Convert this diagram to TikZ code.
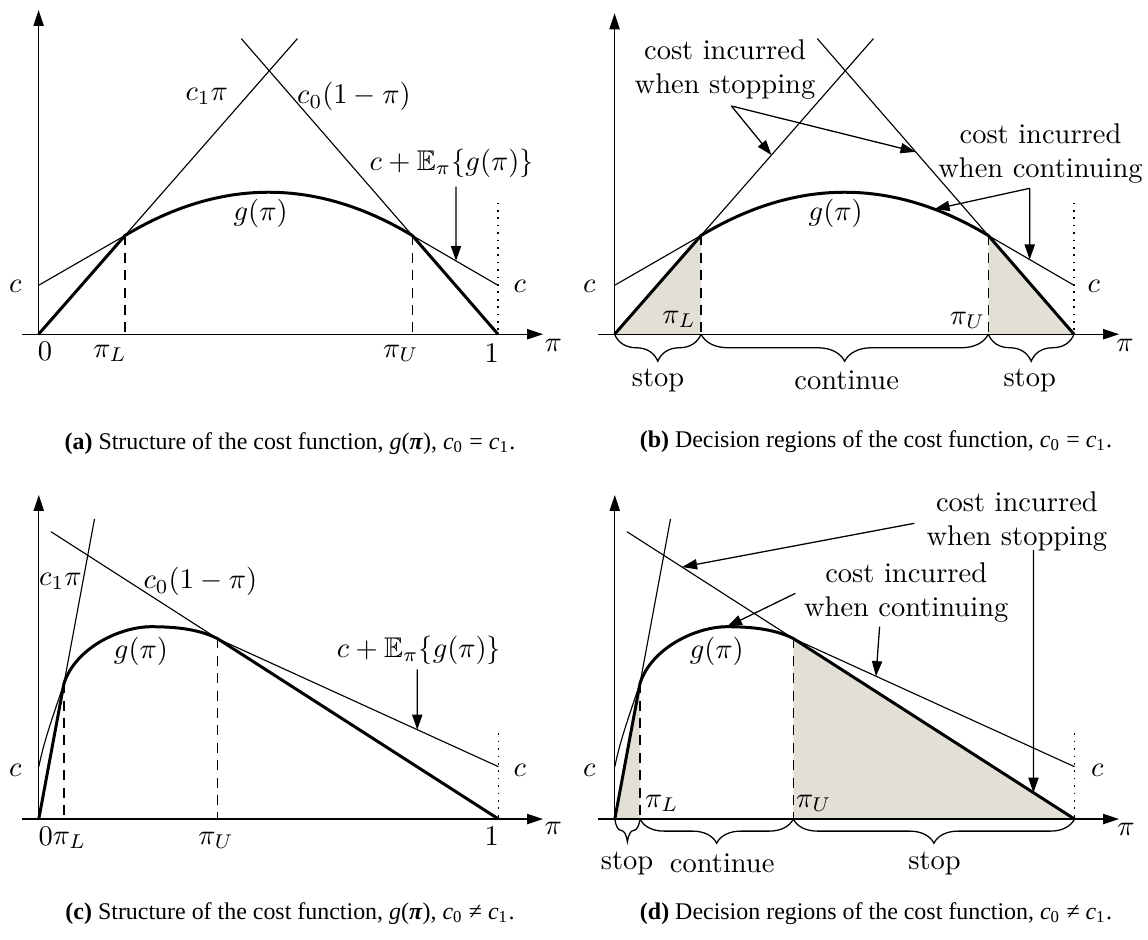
\documentclass[tikz,border=0pt]{standalone}
\usepackage{amssymb}
\usepackage{fontspec}
\newfontfamily\capfont{Liberation Serif}
\usetikzlibrary{arrows.meta,decorations.pathreplacing,calc}
\definecolor{regionfill}{RGB}{226,224,214}
\begin{document}
\begin{tikzpicture}[x=0.351pt,y=-0.351pt,
  thinline/.style={line width=0.4pt},
  thickline/.style={line width=1.05pt,line join=round},
  axis/.style={line width=0.45pt,-{Triangle[length=5.6pt,width=3.6pt]}},
  pointer/.style={line width=0.45pt,-{Triangle[length=5.3pt,width=3.6pt]}},
  guide/.style={line width=0.4pt,dash pattern=on 3.5pt off 2.6pt},
  dotline/.style={line width=0.5pt,dash pattern=on 0.6pt off 2pt},
  region/.style={fill=regionfill},
  bracebelow/.style={decorate,decoration={brace,mirror,amplitude=#1},line width=0.45pt},
  lbl/.style={inner sep=0pt},
  twoline/.style={inner sep=0pt,align=center,font=\fontsize{10}{12}\selectfont},
  captext/.style={inner sep=0pt,font=\capfont\fontsize{8.4}{10}\selectfont}]
\useasboundingbox (0,0) rectangle (1148,939);

% ================= panel (a) =================
\coordinate (aO) at (38.6,334.2);
\coordinate (aX) at (498,334.2);
\coordinate (aPL) at (125,235.5);
\coordinate (aPU) at (412.3,235.5);
\coordinate (aL0) at (125,334.2);
\coordinate (aU0) at (412.3,334.2);
\coordinate (aC0) at (38.6,285.3);
\coordinate (aC1) at (498,285.3);
\coordinate (aT1) at (297.4,38.6);
\coordinate (aT0) at (241.3,38.6);
\coordinate (aYt) at (38.6,10);
\coordinate (aXl) at (22,334.2);
\coordinate (aXr) at (543,334.2);
\coordinate (aD) at (498,202.5);
\draw[axis] (aO) -- (aYt);
\draw[axis] (aXl) -- (aXr);
\draw[thinline] (aPL) -- (aT1);
\draw[thinline] (aT0) -- (aPU);
\draw[thinline] (aC0) -- (aPL);
\draw[thinline] (aPU) -- (aC1);
\draw[guide] (aPL) -- (aL0);
\draw[guide] (aPU) -- (aU0);
\draw[dotline] (aD) -- (aX);
\draw[thickline] (aO) -- (aPL) .. controls (220.7,177.8) and (316.5,177.8) .. (aPU) -- (aX);
\node[lbl] (acl) at (15.4,286.7) {$c$};
\node[lbl] (acr) at (519.8,286.7) {$c$};
\node[lbl] (a0) at (45,351.7) {$0$};
\node[lbl] (apiL) at (110,353) {$\pi_L$};
\node[lbl] (apiU) at (400.8,353) {$\pi_U$};
\node[lbl] (a1) at (491.7,353.3) {$1$};
\node[lbl] (api) at (553.3,345) {$\pi$};
\node[lbl] (ac1pi) at (206.8,96.7) {$c_1\pi$};
\node[lbl] (ac0) at (354,96.7) {$c_0(1-\pi)$};
\node[lbl] (aE) at (451.7,163.3) {$c+\mathbb{E}_\pi\{g(\pi)\}$};
\node[lbl] (ag) at (260.6,213.3) {$g(\pi)$};
\coordinate (aA) at (456,186.7);
\path (aPU) -- coordinate[pos=0.51] (aAe) (aC1);
\draw[pointer] (aA) -- (aAe);
\node[captext] (acap) at (290,443.3) {\textbf{(a)} Structure of the cost function, \textit{g}(\textbf{\textit{π}}), \textit{c}\textsubscript{0} = \textit{c}\textsubscript{1}.};

% ================= panel (b) =================
\begin{scope}[shift={(576,0)}]
\coordinate (bO) at (38.6,334.2);
\coordinate (bX) at (498,334.2);
\coordinate (bPL) at (125,235.5);
\coordinate (bPU) at (412.3,235.5);
\coordinate (bL0) at (125,334.2);
\coordinate (bU0) at (412.3,334.2);
\coordinate (bC0) at (38.6,285.3);
\coordinate (bC1) at (498,285.3);
\coordinate (bT1) at (297.4,38.6);
\coordinate (bT0) at (241.3,38.6);
\coordinate (bYt) at (38.6,13.3);
\coordinate (bXl) at (22,334.2);
\coordinate (bXr) at (543,334.2);
\coordinate (bD) at (498,202.5);
\fill[region] (bO) -- (bPL) -- (bL0) -- cycle;
\fill[region] (bU0) -- (bPU) -- (bX) -- cycle;
\draw[axis] (bO) -- (bYt);
\draw[axis] (bXl) -- (bXr);
\draw[thinline] (bPL) -- (bT1);
\draw[thinline] (bT0) -- (bPU);
\draw[thinline] (bC0) -- (bPL);
\draw[thinline] (bPU) -- (bC1);
\draw[guide] (bPL) -- (bL0);
\draw[guide] (bPU) -- (bU0);
\draw[dotline] (bD) -- (bX);
\draw[thickline] (bO) -- (bPL) .. controls (220.7,177.8) and (316.5,177.8) .. (bPU) -- (bX);
\path (bPL) .. controls (220.7,177.8) and (316.5,177.8) .. coordinate[pos=0.8127] (bK1) (bPU);
\path (bPU) -- coordinate[pos=0.483] (bK2) (bC1);
\path (bO) -- coordinate[pos=0.606] (bS1) (bT1);
\path (bX) -- coordinate[pos=0.617] (bS2) (bT0);
\draw[bracebelow=9.5pt] (bO) -- (bL0);
\draw[bracebelow=9.5pt] (bL0) -- (bU0);
\draw[bracebelow=9.5pt] (bU0) -- (bX);
\end{scope}
\node[lbl] (bcl) at (589.4,286.7) {$c$};
\node[lbl] (bcr) at (1093.8,286.7) {$c$};
\node[lbl] (bpi) at (1124.9,345) {$\pi$};
\node[lbl] (bpiL) at (679,319.3) {$\pi_L$};
\node[lbl] (bpiU) at (967.5,320) {$\pi_U$};
\node[lbl] (bg) at (835.7,213.3) {$g(\pi)$};
\node[lbl] (bst1) at (658,380) {stop};
\node[lbl] (bcont) at (846.7,380) {continue};
\node[lbl] (bst2) at (1029.7,380) {stop};
\node[twoline] (bstop) at (725,69.2) {cost incurred\\when stopping};
\node[twoline] (bcon) at (1040.5,153.3) {cost incurred\\when continuing};
\coordinate (bA1) at (731.4,106);
\coordinate (bA2) at (1029.7,188.3);
\draw[pointer] (bA1) -- (bS1);
\draw[pointer] (bA1) -- (bS2);
\draw[pointer] (bA2) -- (bK1);
\draw[pointer] (bA2) -- (bK2);
\node[captext] (bcap) at (876,441.7) {\textbf{(b)} Decision regions of the cost function, \textit{c}\textsubscript{0} = \textit{c}\textsubscript{1}.};

% ================= panel (c) =================
\coordinate (cO) at (38.8,819);
\coordinate (cX) at (498.5,819);
\coordinate (cPL) at (64,683.3);
\coordinate (cPU) at (217.3,638.5);
\coordinate (cL0) at (64,819);
\coordinate (cU0) at (217.3,819);
\coordinate (cC0) at (38.8,766.7);
\coordinate (cC1) at (498.5,766.7);
\coordinate (cT1) at (94.5,519);
\coordinate (cT0) at (51,531.7);
\coordinate (cYt) at (38.8,495);
\coordinate (cXl) at (22,819);
\coordinate (cXr) at (543,819);
\coordinate (cD) at (498.5,733.3);
\coordinate (cPk) at (151,626.7);
\draw[axis] (cO) -- (cYt);
\draw[axis] (cXl) -- (cXr);
\draw[thinline] (cPL) -- (cT1);
\draw[thinline] (cT0) -- (cPU);
\draw[thinline] (cC0) .. controls (44,740) and (55.9,707.8) .. (cPL);
\draw[thinline] (cPU) -- (cC1);
\draw[guide] (cPL) -- (cL0);
\draw[guide] (cPU) -- (cU0);
\draw[dotline] (cD) -- (cX);
\draw[thickline] (cO) -- (cPL) .. controls (76,647) and (121,626.7) .. (cPk) .. controls (176,626.7) and (199,629.2) .. (cPU) -- (cX);
\node[lbl] (ccl) at (15.4,770) {$c$};
\node[lbl] (ccr) at (519.8,770) {$c$};
\node[lbl] (c0) at (45.8,836.7) {$0$};
\node[lbl] (cpiL) at (69.5,840) {$\pi_L$};
\node[lbl] (cpiU) at (216,840) {$\pi_U$};
\node[lbl] (c1) at (491.7,836.7) {$1$};
\node[lbl] (cpi) at (553.3,828.3) {$\pi$};
\node[lbl] (cc1pi) at (60.4,581.7) {$c_1\pi$};
\node[lbl] (cc0) at (200.4,581.7) {$c_0(1-\pi)$};
\node[lbl] (cE) at (419,650) {$c+\mathbb{E}_\pi\{g(\pi)\}$};
\node[lbl] (cg) at (141,651.7) {$g(\pi)$};
\coordinate (cA) at (417.3,669.3);
\path (cPU) -- coordinate[pos=0.711] (cAe) (cC1);
\draw[pointer] (cA) -- (cAe);
\node[captext] (ccap) at (290,913.3) {\textbf{(c)} Structure of the cost function, \textit{g}(\textbf{\textit{π}}), \textit{c}\textsubscript{0} ≠ \textit{c}\textsubscript{1}.};

% ================= panel (d) =================
\begin{scope}[shift={(576,0)}]
\coordinate (dO) at (38.8,819);
\coordinate (dX) at (498.5,819);
\coordinate (dPL) at (64,683.3);
\coordinate (dPU) at (217.3,638.5);
\coordinate (dL0) at (64,819);
\coordinate (dU0) at (217.3,819);
\coordinate (dC0) at (38.8,766.7);
\coordinate (dC1) at (498.5,766.7);
\coordinate (dT1) at (94.5,519);
\coordinate (dT0) at (51,531.7);
\coordinate (dYt) at (38.8,495);
\coordinate (dXl) at (22,819);
\coordinate (dXr) at (543,819);
\coordinate (dD) at (498.5,733.3);
\coordinate (dPk) at (151,626.7);
\fill[region] (dO) -- (dPL) -- (dL0) -- cycle;
\fill[region] (dU0) -- (dPU) -- (dX) -- cycle;
\draw[axis] (dO) -- (dYt);
\draw[axis] (dXl) -- (dXr);
\draw[thinline] (dPL) -- (dT1);
\draw[thinline] (dT0) -- (dPU);
\draw[thinline] (dC0) .. controls (44,740) and (55.9,707.8) .. (dPL);
\draw[thinline] (dPU) -- (dC1);
\draw[guide] (dPL) -- (dL0);
\draw[guide] (dPU) -- (dU0);
\draw[dotline] (dD) -- (dX);
\draw[thickline] (dO) -- (dPL) .. controls (76,647) and (121,626.7) .. (dPk) .. controls (176,626.7) and (199,629.2) .. (dPU) -- (dX);
\path (dX) -- coordinate[pos=0.877] (dS1) (dT0);
\path (dPU) -- coordinate[pos=0.854] (dS2) (dX);
\path (dPU) -- coordinate[pos=0.294] (dK2) (dC1);
\draw[bracebelow=8pt] (dO) -- (dL0);
\draw[bracebelow=8.5pt] (dL0) -- (dU0);
\draw[bracebelow=8.5pt] (dU0) -- (dX);
\end{scope}
\node[lbl] (dcl) at (589.4,770) {$c$};
\node[lbl] (dcr) at (1097.4,770) {$c$};
\node[lbl] (dpi) at (1126,829) {$\pi$};
\node[lbl] (dpiL) at (661.8,803.3) {$\pi_L$};
\node[lbl] (dpiU) at (813.8,803.3) {$\pi_U$};
\node[lbl] (dg) at (716.8,651.7) {$g(\pi)$};
\node[lbl] (dst1) at (627,863.3) {stop};
\node[lbl] (dcont) at (722.2,863.3) {continue};
\node[lbl] (dst2) at (934.5,863.3) {stop};
\node[twoline] (dstop) at (1016.9,521.7) {cost incurred\\when stopping};
\node[twoline] (dcon) at (906.2,592.5) {cost incurred\\when continuing};
\coordinate (dA1) at (914.4,523.3);
\coordinate (dA2) at (1033.4,550);
\coordinate (dA3) at (795.4,593.3);
\coordinate (dA4) at (879.6,626.7);
\draw[pointer] (dA1) -- (dS1);
\draw[pointer] (dA2) -- (dS2);
\draw[pointer] (dA3) -- (dPk);
\draw[pointer] (dA4) -- (dK2);
\node[captext] (dcap) at (876,913.3) {\textbf{(d)} Decision regions of the cost function, \textit{c}\textsubscript{0} ≠ \textit{c}\textsubscript{1}.};
\end{tikzpicture}
\end{document}
